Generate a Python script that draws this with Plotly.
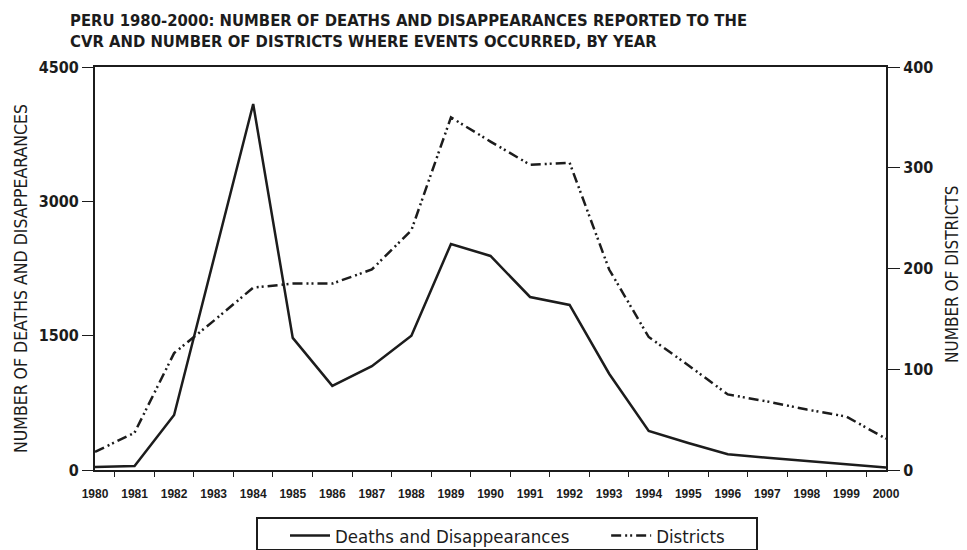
import plotly.graph_objects as go

years = [str(y) for y in range(1980, 2001)]
deaths = [33, 45, 614, 2350, 4087, 1475, 940, 1160, 1500, 2524, 2390,
          1932, 1843, 1075, 436, 302, 176, 137, 100, 65, 28]
districts = [18, 37, 116, 148, 181, 185, 185, 199, 238, 350, 326,
             303, 305, 199, 132, 104, 75, 68, 60, 53, 31]

narrow = "DejaVu Sans Condensed, Liberation Sans Narrow, sans-serif"
plain = "Liberation Sans, Arial, sans-serif"
ink = "#1c1c1c"
nb = "\u00a0"

fig = go.Figure()

fig.add_trace(
    go.Scatter(
        x=years,
        y=deaths,
        mode="lines",
        name="Deaths and Disappearances" + nb * 6,
        line={"color": ink, "width": 2.5},
    )
)

fig.add_trace(
    go.Scatter(
        x=years,
        y=districts,
        mode="lines",
        name="Districts",
        yaxis="y2",
        line={"color": ink, "width": 2.5, "dash": "10px,4px,2px,3px,2px,4px"},
    )
)

# title and axis titles as annotations, positioned relative to the plot area
fig.add_annotation(
    text="PERU 1980-2000: NUMBER OF DEATHS AND DISAPPEARANCES REPORTED TO THE<br>"
         "CVR AND NUMBER OF DISTRICTS WHERE EVENTS OCCURRED, BY YEAR",
    xref="paper", yref="paper",
    x=-27 / 791, y=1 + 58 / 403,
    xanchor="left", yanchor="top", align="left",
    showarrow=False,
    font={"family": narrow, "size": 16.5, "color": ink, "weight": 600},
)
fig.add_annotation(
    text="NUMBER OF DEATHS AND DISAPPEARANCES",
    xref="paper", yref="paper",
    x=-74 / 791, y=0.474,
    xanchor="center", yanchor="middle", textangle=-90,
    showarrow=False,
    font={"family": narrow, "size": 17.5, "color": ink},
)
fig.add_annotation(
    text="NUMBER OF DISTRICTS",
    xref="paper", yref="paper",
    x=1 + 66 / 791, y=0.484,
    xanchor="center", yanchor="middle", textangle=-90,
    showarrow=False,
    font={"family": narrow, "size": 17, "color": ink},
)

# frame around the legend, wider than plotly's own legend border
fig.add_shape(
    type="rect",
    xref="paper", yref="paper",
    x0=(257 - 95) / 791, x1=(757 - 95) / 791,
    y0=-80 / 403, y1=-48 / 403,
    line={"color": ink, "width": 2},
)

# the page body adds an 8px margin, so the figure is 8px smaller than the window
fig.update_layout(
    width=959,
    height=542,
    margin={"l": 87, "r": 81, "t": 59, "b": 80, "autoexpand": False},
    paper_bgcolor="white",
    plot_bgcolor="white",
    xaxis={
        "type": "category",
        "tickson": "boundaries",
        "ticks": "outside",
        "ticklen": 5,
        "tickcolor": ink,
        "ticklabelstandoff": 12,
        "showline": True,
        "linecolor": ink,
        "linewidth": 2,
        "mirror": True,
        "showgrid": False,
        "tickfont": {"family": plain, "size": 12, "color": ink, "weight": 600},
    },
    yaxis={
        "range": [0, 4500],
        "tickvals": [0, 1500, 3000, 4500],
        "ticks": "outside",
        "ticklen": 11,
        "tickcolor": ink,
        "showline": True,
        "linecolor": ink,
        "linewidth": 2,
        "showgrid": False,
        "zeroline": False,
        "tickfont": {"family": narrow, "size": 16, "color": ink, "weight": 600},
    },
    yaxis2={
        "range": [0, 400],
        "tickvals": [0, 100, 200, 300, 400],
        "overlaying": "y",
        "side": "right",
        "ticks": "outside",
        "ticklen": 12,
        "tickcolor": ink,
        "showline": True,
        "linecolor": ink,
        "linewidth": 2,
        "showgrid": False,
        "zeroline": False,
        "tickfont": {"family": narrow, "size": 16, "color": ink, "weight": 600},
    },
    legend={
        "orientation": "h",
        "x": (285 - 95) / 791,
        "xanchor": "left",
        "y": -47 / 403,
        "yanchor": "top",
        "bgcolor": "rgba(0,0,0,0)",
        "borderwidth": 0,
        "font": {"family": narrow, "size": 18.5, "color": ink},
        "itemwidth": 40,
    },
)

fig.write_html("out.html")
